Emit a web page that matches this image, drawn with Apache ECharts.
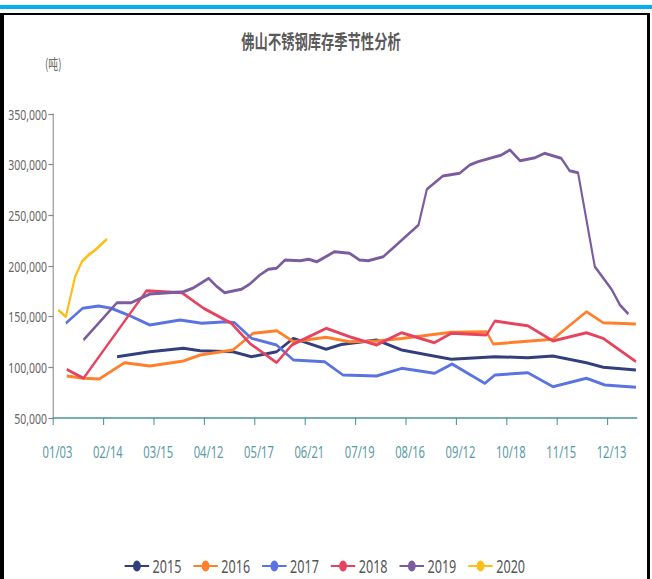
<!DOCTYPE html>
<html>
<head>
<meta charset="utf-8">
<script src="https://cdn.jsdelivr.net/npm/echarts@6/dist/echarts.min.js"></script>
<style>
  html, body { margin: 0; padding: 0; background: #fff; width: 652px; height: 579px; overflow: hidden; position: relative; }
  #bar { position: absolute; left: 0; top: 5px; width: 652px; height: 4px; background: #00b0f0; }
  #frame { position: absolute; left: 0; top: 13px; width: 643px; height: 580px; border-left: 4px solid #000; border-top: 2px solid #000; border-right: 3px solid #000; pointer-events: none; z-index: 2; }
  #chart { position: absolute; left: 0; top: 0; width: 931.43px; height: 579px; transform: scaleX(0.7); transform-origin: 0 0; z-index: 1; }
</style>
</head>
<body>
<div id="bar"></div>
<div id="chart"></div>
<div id="frame"></div>
<script>
// Tick labels shown on the x axis (one every 6 periods)
const tickLabels = ['01/03','02/14','03/15','04/12','05/17','06/21','07/19','08/16','09/12','10/18','11/15','12/13'];
const years = ['2015','2016','2017','2018','2019','2020'];

// Period positions (in weekly-period units along the year) and inventory (tonnes)
const weeks2015 = [7.6, 11.5, 15.5, 17.5, 21.4, 23.6, 26.6, 28.6, 32.5, 34.3, 38.5, 41.5, 44.5, 47.4, 52.6, 56.5, 59.5, 63.5, 65.5, 69.4];
const tons2015  = [110500, 115400, 118800, 116400, 115400, 110500, 115400, 128600, 117800, 122500, 127000, 117100, 112500, 107900, 110500, 109500, 111200, 104600, 100000, 97400];

const weeks2016 = [1.6, 3.6, 5.5, 8.5, 11.5, 15.5, 17.5, 21.4, 23.8, 26.6, 28.6, 32.5, 35.3, 38.5, 41.5, 47.4, 51.6, 52.4, 59.5, 63.5, 65.5, 69.4];
const tons2016  = [91400, 89200, 88500, 104600, 101300, 106200, 112200, 117100, 133600, 136200, 125300, 129600, 125300, 126000, 128500, 134600, 135200, 123000, 127700, 154900, 144000, 142800];

const weeks2017 = [1.5, 3.5, 5.4, 6.9, 8.9, 11.5, 15.1, 17.7, 20.6, 21.6, 23.6, 26.6, 28.6, 32.3, 34.5, 38.5, 41.5, 45.4, 47.5, 51.4, 52.6, 56.5, 59.5, 63.5, 65.7, 69.4];
const tons2017  = [143500, 158300, 160500, 158300, 151700, 141800, 146700, 143500, 145000, 144000, 128600, 122000, 107200, 105600, 92400, 91400, 99000, 94100, 103300, 84200, 92400, 94700, 80900, 89200, 82600, 80300];

const weeks2018 = [1.6, 3.6, 11.1, 15.3, 17.9, 21.2, 23.4, 26.6, 28.4, 32.5, 35.3, 38.5, 41.5, 45.4, 47.4, 51.6, 52.6, 56.5, 59.5, 63.5, 65.5, 69.4];
const tons2018  = [98000, 89200, 175600, 173700, 158300, 143500, 123700, 104600, 122000, 138500, 130200, 122000, 134200, 124300, 133600, 131900, 145700, 141100, 126000, 134200, 128600, 105600];

const weeks2019 = [3.6, 7.6, 9.3, 11.5, 15.5, 16.6, 18.5, 19.5, 20.4, 22.4, 23.4, 24.6, 25.6, 26.6, 27.6, 29.4, 30.4, 31.4, 33.5, 35.3, 36.5, 37.5, 39.3, 40.1, 43.5, 44.5, 46.4, 48.4, 49.6, 50.6, 53.4, 54.4, 55.6, 57.4, 58.5, 60.5, 61.5, 62.5, 64.5, 66.5, 67.5, 68.5];
const tons2019  = [127000, 163800, 163800, 172400, 174600, 178000, 187900, 179600, 173700, 177000, 182200, 191100, 196700, 197700, 205900, 205200, 206600, 204200, 214100, 212500, 205900, 205200, 209200, 215100, 240500, 275700, 288800, 291500, 299700, 303000, 309600, 314500, 303900, 306900, 311200, 306300, 294000, 292100, 199300, 177000, 161500, 152600];

const weeks2020 = [0.6, 1.5, 2.6, 3.4, 4.2, 5.0, 6.4];
const tons2020  = [156600, 150000, 189400, 204200, 210900, 215800, 226700];

const colors = ['#323f7c', '#ff7f2a', '#5a73e0', '#e8435e', '#7b5c9e', '#fcbf18'];

const weekSets = [weeks2015, weeks2016, weeks2017, weeks2018, weeks2019, weeks2020];
const tonSets  = [tons2015, tons2016, tons2017, tons2018, tons2019, tons2020];

const series = years.map((y, k) => ({
  name: y,
  type: 'line',
  data: weekSets[k].map((w, i) => [w, tonSets[k][i]]),
  symbol: 'circle',
  symbolSize: 9,
  showSymbol: false,
  lineStyle: { width: 3, color: colors[k] },
  itemStyle: { color: colors[k] },
  z: k === 5 ? 3 : 2
}));

const tickValues = tickLabels.map((_, i) => i * 6);

const chart = echarts.init(document.getElementById('chart'), null, { renderer: 'svg' });
chart.setOption({
  animation: false,
  backgroundColor: 'transparent',
  color: colors,
  title: {
    text: '佛山不锈钢库存季节性分析',
    left: 453.6,
    top: 26,
    textAlign: 'center',
    textStyle: { fontFamily: 'Noto Sans CJK SC', fontSize: 19, fontWeight: 'bold', color: '#5a5a5a' }
  },
  legend: {
    data: years,
    left: 172,
    top: 552,
    itemWidth: 35,
    itemHeight: 14,
    itemGap: 16,
    textStyle: { fontFamily: 'Noto Sans', fontSize: 18, color: '#555' }
  },
  grid: { left: 76.1, right: 21.3, top: 114, bottom: 161, containLabel: false },
  xAxis: {
    type: 'value',
    min: 0,
    max: 69.5,
    interval: 6,
    splitLine: { show: false },
    axisLine: { show: true, lineStyle: { color: '#4a9399', width: 1.5 } },
    axisTick: { show: true, length: 7, lineStyle: { color: '#4a9399', width: 1.5 }, customValues: tickValues },
    axisLabel: {
      customValues: tickValues,
      margin: 26,
      padding: [0, 0, 0, 12],
      fontFamily: 'Noto Sans',
      fontSize: 16,
      color: '#5a9aa3',
      formatter: v => {
        const i = Math.round(v / 6);
        return (Math.abs(v - i * 6) < 1e-6 && tickLabels[i]) ? tickLabels[i] : '';
      }
    }
  },
  yAxis: {
    type: 'value',
    min: 50000,
    max: 350000,
    interval: 50000,
    name: '(吨)',
    nameLocation: 'end',
    nameGap: 44,
    nameTextStyle: { fontFamily: 'Noto Sans CJK SC', fontSize: 14, color: '#666' },
    splitLine: { show: false },
    axisLine: { show: true, lineStyle: { color: '#888', width: 1.5 } },
    axisTick: { show: true, length: 7, lineStyle: { color: '#888', width: 1.2 } },
    axisLabel: {
      margin: 9,
      fontFamily: 'Noto Sans',
      fontSize: 15,
      color: '#666',
      formatter: v => v.toLocaleString('en-US')
    }
  },
  series: series
});
</script>
</body>
</html>
